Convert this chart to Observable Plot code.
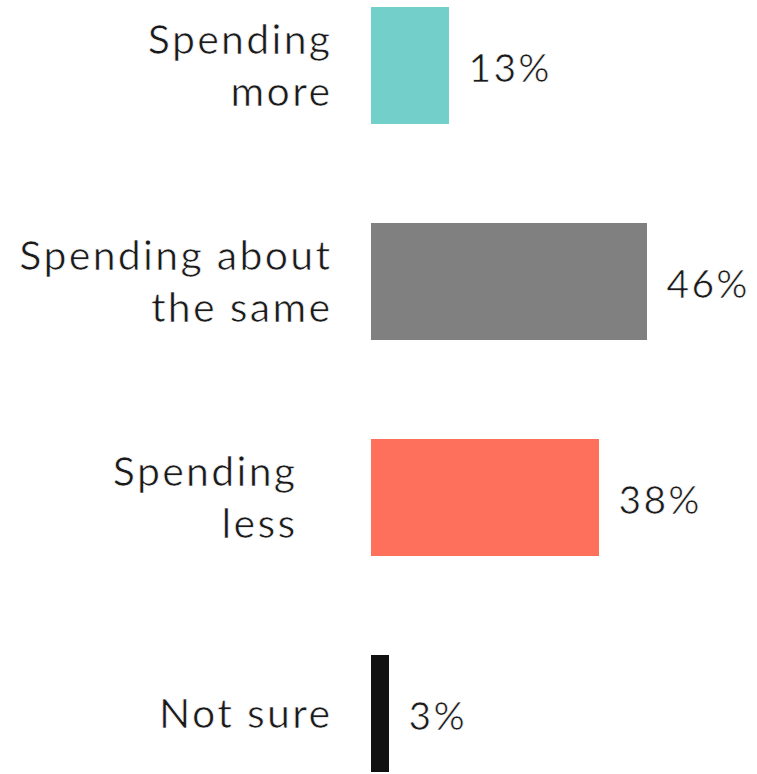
<!DOCTYPE html>
<html>
<head>
<meta charset="utf-8">
<script src="https://cdn.jsdelivr.net/npm/d3@7"></script>
<script src="https://cdn.jsdelivr.net/npm/@observablehq/plot@0.6"></script>
<style>
  html, body { margin: 0; padding: 0; background: #fff; }
  #chart svg { display: block; }
</style>
</head>
<body>
<div id="chart"></div>
<script>
const categories = ["Spending\nmore", "Spending about\nthe same", "Spending\nless", "Not sure"];
const values = [13, 46, 38, 3];
const colors = ["#72CFCA", "#808080", "#FF705C", "#111111"];

const data = categories.map((c, i) => ({category: c, value: values[i], color: colors[i]}));
const font = "Lato, 'Open Sans', sans-serif";
const textStyle = {fill: "#1a1a1a", stroke: "white", strokeWidth: 0.7, paintOrder: "fill"};

const chart = Plot.plot({
  width: 757,
  height: 774,
  marginLeft: 0, marginRight: 0, marginTop: 0, marginBottom: 0,
  style: {fontFamily: font, background: "#fff", letterSpacing: "2.3px"},
  x: {domain: [0, 100], range: [371, 971], axis: null},
  y: {domain: categories, range: [6, 772], paddingInner: 0.46, paddingOuter: 0, axis: null},
  marks: [
    Plot.barX(data, {y: "category", x: "value", fill: "color"}),
    Plot.text(data.filter(d => d.category !== "Spending\nless"), {
      y: "category", x: 0, text: "category", textAnchor: "end", dx: -39, dy: -3,
      fontSize: 41, fontWeight: 400, lineHeight: 1.27, ...textStyle
    }),
    Plot.text(data.filter(d => d.category === "Spending\nless"), {
      y: "category", x: 0, text: "category", textAnchor: "end", dx: -74, dy: -3,
      fontSize: 41, fontWeight: 400, lineHeight: 1.27, ...textStyle
    }),
    Plot.text(data, {
      y: "category", x: "value", text: d => d.value + "%", textAnchor: "start", dx: 19, dy: 4,
      fontSize: 39, fontWeight: 400, ...textStyle
    })
  ]
});
document.getElementById("chart").appendChild(chart);
</script>
</body>
</html>
